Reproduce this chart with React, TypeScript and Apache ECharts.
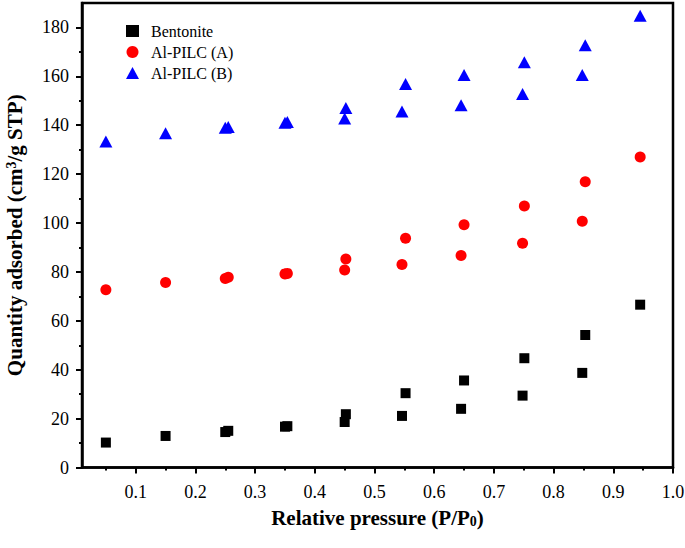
import React, { useEffect, useRef } from "react";
import * as echarts from "echarts";

// Relative pressure (P/P0) for adsorption and desorption branches
const pressureAds = [0.05, 0.15, 0.25, 0.35, 0.45, 0.546, 0.645, 0.748, 0.848, 0.945];
const pressureDes = [0.853, 0.751, 0.65, 0.552, 0.452, 0.354, 0.255];

// Quantity adsorbed (cm3/g STP)
const bentoniteAds = [10.2, 12.9, 14.5, 16.7, 18.6, 21.1, 24.0, 29.4, 38.7, 66.6];
const bentoniteDes = [54.2, 44.7, 35.6, 30.4, 21.8, 16.9, 15.0];
const pilcAAds = [72.7, 75.7, 77.3, 79.2, 80.8, 83.0, 86.7, 91.7, 100.7, 127.0];
const pilcADes = [116.9, 107.0, 99.3, 93.8, 85.3, 79.4, 77.8];
const pilcBAds = [133.3, 136.7, 139.0, 141.0, 142.8, 145.6, 148.2, 152.8, 160.6, 184.8];
const pilcBDes = [172.7, 165.8, 160.6, 156.9, 147.0, 141.3, 139.3];

const seriesNames = ["Bentonite", "Al-PILC (A)", "Al-PILC (B)"];

const xMajorTicks = [0.1, 0.2, 0.3, 0.4, 0.5, 0.6, 0.7, 0.8, 0.9, 1.0];
const xMinorTicks = [0.05, 0.15, 0.25, 0.35, 0.45, 0.55, 0.65, 0.75, 0.85, 0.95];
const yMinorTicks = [10, 30, 50, 70, 90, 110, 130, 150, 170];

const pair = (xs: number[], ys: number[]) => ys.map((y, i) => [xs[i], y]);

export default function App() {
  const ref = useRef<HTMLDivElement>(null);
  useEffect(() => {
    if (!ref.current) return;
    const chart = echarts.init(ref.current, null, { renderer: "svg" });
    const font = "Liberation Serif";
    const tickText = { fontFamily: font, fontSize: 18, color: "#000", fontWeight: "normal" };
    const baseAxis = {
      type: "value",
      axisLine: { show: false },
      splitLine: { show: false },
    };
    chart.setOption({
      animation: false,
      backgroundColor: "#ffffff",
      textStyle: { fontFamily: font, color: "#000" },
      grid: {
        left: 82,
        right: 12,
        top: 3,
        bottom: 80.5,
        containLabel: false,
        outerBoundsMode: "none",
        show: true,
        borderColor: "#000",
        borderWidth: 2.5,
        backgroundColor: "transparent",
      },
      legend: {
        orient: "vertical",
        left: 121,
        top: 18,
        itemWidth: 13,
        itemHeight: 12,
        itemGap: 5,
        data: seriesNames,
        textStyle: {
          fontFamily: font,
          fontSize: 16,
          color: "#000",
          lineHeight: 16,
          padding: [0, 0, 0, 7],
        },
      },
      xAxis: [
        {
          ...baseAxis,
          min: 0.01,
          max: 1.0,
          position: "bottom",
          axisLine: { show: true, onZero: false, lineStyle: { color: "#000", width: 2.5 } },
          axisTick: {
            show: true,
            inside: false,
            length: 6,
            lineStyle: { color: "#000", width: 2 },
            customValues: xMajorTicks,
          },
          axisLabel: {
            show: true,
            margin: 15,
            ...tickText,
            customValues: xMajorTicks,
            formatter: (v: number) => v.toFixed(1),
          },
          name: "Relative pressure (P/P{sub|0})",
          nameLocation: "middle",
          nameGap: 39,
          nameTextStyle: {
            fontFamily: font,
            fontSize: 21,
            fontWeight: "bold",
            color: "#000",
            rich: {
              sub: {
                fontFamily: font,
                fontSize: 14,
                fontWeight: "bold",
                verticalAlign: "bottom",
                padding: [8, 0, 0, 0],
              },
            },
          },
        },
        {
          ...baseAxis,
          min: 0.01,
          max: 1.0,
          position: "bottom",
          axisTick: {
            show: true,
            inside: false,
            length: 3,
            lineStyle: { color: "#000", width: 2 },
            customValues: xMinorTicks,
          },
          axisLabel: { show: false },
        },
      ],
      yAxis: [
        {
          ...baseAxis,
          min: 0,
          max: 190,
          interval: 20,
          position: "left",
          axisLine: { show: true, onZero: false, lineStyle: { color: "#000", width: 2.5 } },
          axisTick: {
            show: true,
            inside: false,
            length: 6,
            lineStyle: { color: "#000", width: 2 },
          },
          axisLabel: {
            show: true,
            margin: 13,
            ...tickText,
            showMaxLabel: false,
          },
          name: "Quantity adsorbed (cm{sup|3}/g STP)",
          nameLocation: "middle",
          nameRotate: 90,
          nameGap: 57,
          nameTextStyle: {
            fontFamily: font,
            fontSize: 21,
            fontWeight: "bold",
            color: "#000",
            rich: {
              sup: {
                fontFamily: font,
                fontSize: 14,
                fontWeight: "bold",
                verticalAlign: "top",
              },
            },
          },
        },
        {
          ...baseAxis,
          min: 0,
          max: 190,
          position: "left",
          axisTick: {
            show: true,
            inside: false,
            length: 3,
            lineStyle: { color: "#000", width: 2 },
            customValues: yMinorTicks,
          },
          axisLabel: { show: false },
        },
      ],
      series: [
        {
          name: seriesNames[0],
          type: "scatter",
          symbol: "rect",
          symbolSize: 10,
          itemStyle: { color: "#000000", opacity: 1 },
          data: [...pair(pressureAds, bentoniteAds), ...pair(pressureDes, bentoniteDes)],
        },
        {
          name: seriesNames[1],
          type: "scatter",
          symbol: "circle",
          symbolSize: 11,
          itemStyle: { color: "#ff0000", opacity: 1 },
          data: [...pair(pressureAds, pilcAAds), ...pair(pressureDes, pilcADes)],
        },
        {
          name: seriesNames[2],
          type: "scatter",
          symbol: "triangle",
          symbolSize: [13, 12],
          itemStyle: { color: "#0000ff", opacity: 1 },
          data: [...pair(pressureAds, pilcBAds), ...pair(pressureDes, pilcBDes)],
        },
      ],
    });
    return () => chart.dispose();
  }, []);
  return (
    <div
      ref={ref}
      style={{ position: "fixed", left: 0, top: 0, width: 685, height: 548, background: "#fff" }}
    />
  );
}
